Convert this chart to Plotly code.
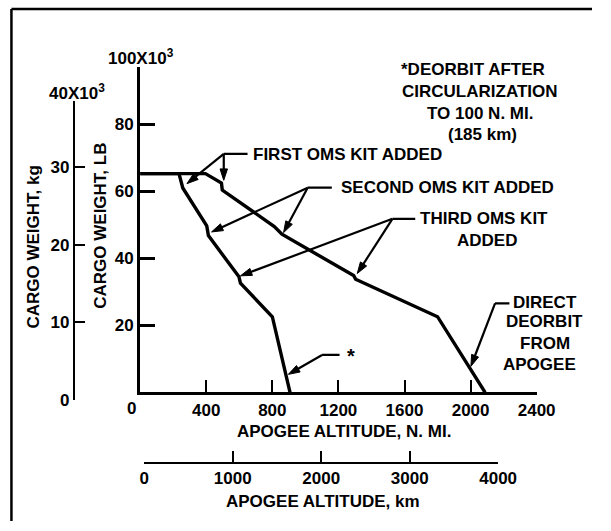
import plotly.graph_objects as go

# ---------------- data ----------------
# Deorbit after circularization to 100 n.mi. (left curve, marked *)
circ_alt_nmi = [0, 235, 258, 403, 413, 598, 607, 800, 907]
circ_cargo_klb = [65.3, 65.3, 61.0, 49.7, 46.8, 34.5, 32.6, 22.6, 0]

# Direct deorbit from apogee (right curve)
direct_alt_nmi = [0, 395, 492, 497, 812, 858, 1292, 1304, 1800, 2088]
direct_cargo_klb = [65.3, 65.3, 62.5, 60.4, 49.5, 47.2, 34.9, 33.8, 22.6, 0]

nmi_ticks = [400, 800, 1200, 1600, 2000, 2400]
lb_ticks = [20, 40, 60, 80]
kg_ticks = [0, 10, 20, 30]
km_ticks = [0, 1000, 2000, 3000, 4000]

# callouts: junction point, leader end, arrow tips (n.mi., 1000 lb)
callouts = [
    ((506, 71.2), 650, [(506, 63.3), (283, 62.3)]),      # first OMS kit
    ((1014, 61.1), 1160, [(868, 47.7), (432, 47.9)]),    # second OMS kit
    ((1527, 51.8), 1665, [(1314, 35.5), (607, 34.8)]),   # third OMS kit
    ((2148, 26.6), 2235, [(2002, 7.8)]),                 # direct deorbit
    ((1101, 11.2), 1207, [(897, 5.4)]),                  # * curve
]

W, H = 611, 531
FONT = "Liberation Sans"
FS = 17


def px(x):
    return x / W


def py(y):
    return 1 - y / H


fig = go.Figure()
fig.add_trace(go.Scatter(x=circ_alt_nmi, y=circ_cargo_klb, mode="lines",
                         line=dict(color="black", width=3.4), xaxis="x", yaxis="y",
                         showlegend=False, hoverinfo="skip"))
fig.add_trace(go.Scatter(x=direct_alt_nmi, y=direct_cargo_klb, mode="lines",
                         line=dict(color="black", width=3.4), xaxis="x", yaxis="y",
                         showlegend=False, hoverinfo="skip"))
# carriers for the secondary scales
fig.add_trace(go.Scatter(x=[None], y=[None], xaxis="x", yaxis="y2",
                         showlegend=False, hoverinfo="skip"))
fig.add_trace(go.Scatter(x=[None], y=[None], xaxis="x2", yaxis="y",
                         showlegend=False, hoverinfo="skip"))

shapes = []
for junction, leader_end, tips in callouts:
    shapes.append(dict(type="line", xref="x", yref="y", x0=junction[0], y0=junction[1],
                       x1=leader_end, y1=junction[1], line=dict(color="black", width=2.2)))
    for tip in tips:
        fig.add_trace(go.Scatter(
            x=[junction[0], tip[0]], y=[junction[1], tip[1]], mode="lines+markers",
            line=dict(color="black", width=2.2),
            marker=dict(symbol="arrow", size=[0, 12], angleref="previous",
                        color="black", opacity=1, line=dict(width=1, color="black")),
            xaxis="x", yaxis="y", showlegend=False, hoverinfo="skip"))

tickfont = dict(family=FONT, size=FS, color="black", weight="bold")
common = dict(showgrid=False, zeroline=False, showline=True, linecolor="black",
              ticks="inside", tickcolor="black", tickfont=tickfont, fixedrange=True)

fig.update_layout(
    width=W, height=H, autosize=False,
    margin=dict(l=0, r=0, t=0, b=0),
    paper_bgcolor="white", plot_bgcolor="rgba(0,0,0,0)",
    showlegend=False,
    xaxis=dict(domain=[px(140.7), px(553.4)], range=[0, 2400], anchor="y",
               linewidth=3, tickwidth=2, ticklen=12,
               tickvals=nmi_ticks, ticktext=[str(v) for v in nmi_ticks], **common),
    yaxis=dict(domain=[py(400), py(68.3)], range=[0, 97.1], anchor="x",
               linewidth=3, tickwidth=2.5, ticklen=15,
               tickvals=lb_ticks, ticktext=[str(v) for v in lb_ticks], **common),
    yaxis2=dict(domain=[py(407.7), py(103.3)], range=[0, 38.5], anchor="free",
                position=px(71.7), linewidth=2, tickwidth=2, ticklen=10,
                tickvals=kg_ticks, ticktext=[str(v) for v in kg_ticks], **common),
    xaxis2=dict(domain=[px(145), px(513.3)], range=[0, 4000], anchor="free",
                position=py(471.7), linewidth=2, tickwidth=2, ticklen=11,
                tickvals=km_ticks, ticktext=[str(v) for v in km_ticks], **common),
)

annots = []


def text(s, x, y, xanchor="center", size=FS, angle=0):
    annots.append(dict(text=s, x=px(x), y=py(y), xref="paper", yref="paper",
                       xanchor=xanchor, yanchor="middle", showarrow=False,
                       textangle=angle,
                       font=dict(family=FONT, size=size, color="black", weight="bold")))


# axis titles and scale headers
text("APOGEE ALTITUDE, N. MI.", 353, 440)
text("APOGEE ALTITUDE, km", 331, 511.5)
text("CARGO WEIGHT, LB", 100, 230, angle=-90)
text("CARGO WEIGHT, kg", 30, 251.5, angle=-90)
text("100X10<sup>3</sup>", 142, 58)
text("40X10<sup>3</sup>", 75, 94)
text("0", 131.7, 416)

# note
text("*DEORBIT AFTER", 487, 71)
text("CIRCULARIZATION", 494, 93.5)
text("TO 100 N. MI.", 494, 116)
text("(185 km)", 496.7, 136.7)

# callout labels
text("FIRST OMS KIT ADDED", 256, 157.5, xanchor="left")
text("SECOND OMS KIT ADDED", 348, 190.7, xanchor="left")
text("THIRD OMS KIT", 499, 223)
text("ADDED", 502, 245)
text("DIRECT", 562.5, 308.3)
text("DEORBIT", 561.7, 328)
text("FROM", 561.7, 350)
text("APOGEE", 556.7, 371.7)
text("*", 360, 363, size=20)

# page frame (top and left edges)
shapes.append(dict(type="line", xref="paper", yref="paper", x0=px(6.7), y0=py(9.3),
                   x1=1, y1=py(9.3), line=dict(color="black", width=2.5)))
shapes.append(dict(type="line", xref="paper", yref="paper", x0=px(6.7), y0=py(9.3),
                   x1=px(6.7), y1=0, line=dict(color="black", width=2.5)))

fig.update_layout(annotations=annots, shapes=shapes)
fig.write_html(
    "out.html",
    config={"displayModeBar": False},
    post_script="document.body.style.margin='0';document.body.style.overflow='hidden';",
)
